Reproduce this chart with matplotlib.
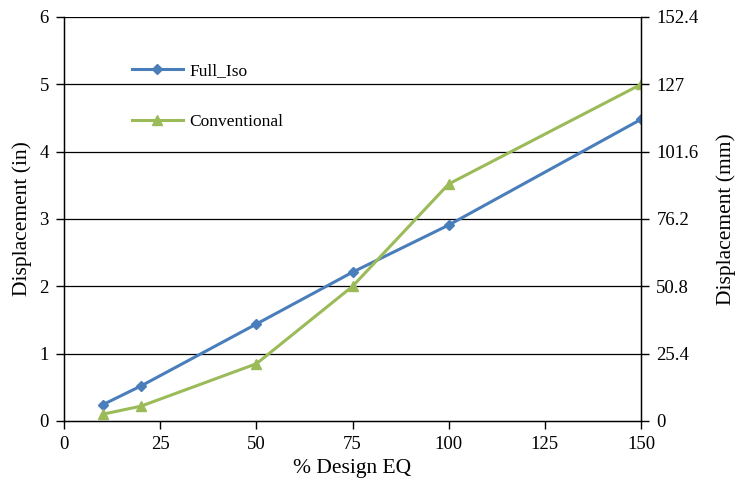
import matplotlib
matplotlib.use('Agg')
import matplotlib.pyplot as plt
import numpy as np

plt.rcParams['font.family'] = ['Liberation Serif', 'DejaVu Serif']

# % design earthquake levels
design_eq = [10, 20, 50, 75, 100, 150]
full_iso = [0.24, 0.52, 1.44, 2.21, 2.91, 4.48]
conventional = [0.10, 0.22, 0.85, 2.0, 3.52, 5.0]

x_ticks = [0, 25, 50, 75, 100, 125, 150]
y_ticks = [0, 1, 2, 3, 4, 5, 6]
mm_labels = ['0', '25.4', '50.8', '76.2', '101.6', '127', '152.4']

fig = plt.figure(figsize=(7.36, 4.91), dpi=100)
ax = fig.add_axes([0.087, 0.1426, 0.784, 0.8228])

ax.plot(design_eq, full_iso, '-D', color='#4A7EBB', lw=2.2, ms=5.5, label='Full_Iso')
ax.plot(design_eq, conventional, '-^', color='#9BBB59', lw=2.2, ms=7, label='Conventional')

ax.set_xlim(0, 150)
ax.set_ylim(0, 6)
ax.set_xticks(x_ticks)
ax.set_yticks(y_ticks)
for y in y_ticks[1:]:
    ax.axhline(y, color='black', lw=0.9, zorder=0)

ax.spines['top'].set_visible(False)
ax.spines['left'].set_linewidth(1.0)
ax.spines['bottom'].set_linewidth(1.0)
ax.spines['right'].set_linewidth(1.0)
ax.tick_params(direction='out', length=6, width=1, labelsize=13.5, pad=5)

ax.set_xlabel('% Design EQ', fontsize=15.5, labelpad=4)
ax.set_ylabel('Displacement (in)', fontsize=15.5, labelpad=5)

ax2 = ax.twinx()
ax2.set_ylim(0, 6)
ax2.set_yticks(y_ticks)
ax2.set_yticklabels(mm_labels)
ax2.spines['top'].set_visible(False)
ax2.tick_params(direction='out', length=6, width=1, labelsize=13.5, pad=5)
ax2.set_ylabel('Displacement (mm)', fontsize=15.5, labelpad=13)

ax.legend(loc='upper left', bbox_to_anchor=(0.091, 0.925), frameon=False,
          fontsize=12.5, handlelength=2.9, handletextpad=0.4, labelspacing=2.0)

fig.savefig('out.png', dpi=100)
